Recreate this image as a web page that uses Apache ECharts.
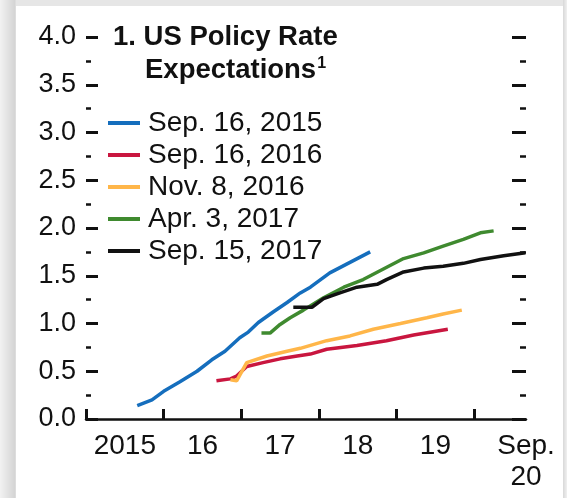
<!DOCTYPE html>
<html>
<head>
<meta charset="utf-8">
<script src="https://cdn.jsdelivr.net/npm/echarts@6/dist/echarts.min.js"></script>
<style>
  html, body { margin: 0; padding: 0; }
  body {
    width: 567px; height: 498px; position: relative; overflow: hidden;
    background: linear-gradient(to right, #f2f2f2 0px, #d4d4d4 15px, #e6e6e6 16px);
  }
  .panel {
    position: absolute; left: 16px; top: 6px; width: 547px; height: 492px;
    background: #fff;
  }
  .edge {
    position: absolute; left: 563px; top: 0; width: 4px; height: 498px;
    background: linear-gradient(to right, #d8d8d8, #f0f0f0);
  }
  #chart { position: absolute; left: 0; top: 0; width: 567px; height: 498px; }
</style>
</head>
<body>
<div class="panel"></div>
<div class="edge"></div>
<div id="chart"></div>
<script>
// decimal years on x, percent on y
const sep2015Dates = [2015.66, 2015.85, 2016.0, 2016.21, 2016.43, 2016.62, 2016.79, 2016.98, 2017.09, 2017.22, 2017.41, 2017.59, 2017.76, 2017.89, 2018.14, 2018.40, 2018.66];
const sep2015Values = [0.14, 0.20, 0.29, 0.39, 0.50, 0.62, 0.71, 0.85, 0.91, 1.01, 1.12, 1.22, 1.32, 1.38, 1.53, 1.64, 1.75];

const sep2016Dates = [2016.68, 2016.86, 2016.94, 2017.07, 2017.28, 2017.50, 2017.72, 2017.89, 2018.10, 2018.49, 2018.87, 2019.22, 2019.66];
const sep2016Values = [0.40, 0.42, 0.45, 0.55, 0.59, 0.63, 0.66, 0.68, 0.73, 0.77, 0.82, 0.88, 0.94];

const nov2016Dates = [2016.86, 2016.94, 2017.07, 2017.33, 2017.59, 2017.76, 2018.10, 2018.40, 2018.70, 2019.05, 2019.39, 2019.60, 2019.84];
const nov2016Values = [0.41, 0.40, 0.59, 0.66, 0.71, 0.74, 0.82, 0.87, 0.94, 1.00, 1.06, 1.10, 1.14];

const apr2017Dates = [2017.26, 2017.37, 2017.50, 2017.63, 2017.80, 2018.06, 2018.32, 2018.57, 2018.83, 2019.09, 2019.35, 2019.60, 2019.86, 2020.08, 2020.25];
const apr2017Values = [0.90, 0.90, 0.99, 1.06, 1.14, 1.27, 1.38, 1.46, 1.57, 1.68, 1.74, 1.81, 1.88, 1.95, 1.97];

const sep2017Dates = [2017.67, 2017.91, 2018.06, 2018.27, 2018.49, 2018.75, 2018.87, 2019.09, 2019.35, 2019.60, 2019.86, 2020.08, 2020.38, 2020.66];
const sep2017Values = [1.17, 1.17, 1.26, 1.32, 1.38, 1.41, 1.46, 1.54, 1.58, 1.60, 1.63, 1.67, 1.71, 1.74];

const seriesNames = ['Sep. 16, 2015', 'Sep. 16, 2016', 'Nov. 8, 2016', 'Apr. 3, 2017', 'Sep. 15, 2017'];
const seriesColors = ['#156ebd', '#c9163f', '#ffb649', '#3f8a2f', '#111111'];
const yearTicks = [2015, 2016, 2017, 2018, 2019, 2020];
const yearLabelPos = [2015.5, 2016.5, 2017.5, 2018.5, 2019.5, 2020.667];
const yearLabels = ['2015', '16', '17', '18', '19', 'Sep.\n20'];

const zip = (xs, ys) => xs.map((x, i) => [x, ys[i]]);
const seriesData = [
  zip(sep2015Dates, sep2015Values),
  zip(sep2016Dates, sep2016Values),
  zip(nov2016Dates, nov2016Values),
  zip(apr2017Dates, apr2017Values),
  zip(sep2017Dates, sep2017Values)
];

const font = '"Liberation Sans", Arial, Helvetica, sans-serif';
const ink = '#111';

const chart = echarts.init(document.getElementById('chart'));

const yAxisBase = {
  type: 'value',
  min: 0,
  max: 4,
  interval: 0.5,
  axisLine: { show: false },
  splitLine: { show: false },
  axisTick: { show: true, inside: true, length: 12, lineStyle: { color: ink, width: 3 } },
  minorTick: { show: true, splitNumber: 2, length: 5, lineStyle: { color: ink, width: 2.5 } }
};

chart.setOption({
  animation: false,
  backgroundColor: 'transparent',
  title: [
    {
      text: '1. US Policy Rate',
      left: 113,
      top: 23,
      padding: 0,
      textStyle: { fontFamily: font, fontSize: 27.5, fontWeight: 'bold', color: ink }
    },
    {
      text: 'Expectations{s|1}',
      left: 145,
      top: 56,
      padding: 0,
      textStyle: {
        fontFamily: font, fontSize: 27.5, fontWeight: 'bold', color: ink,
        rich: { s: { fontFamily: font, fontSize: 16, fontWeight: 'bold', color: ink, verticalAlign: 'top', padding: [0, 0, 10, 1] } }
      }
    }
  ],
  legend: {
    orient: 'vertical',
    left: 108,
    top: 109,
    padding: 0,
    itemWidth: 32,
    itemHeight: 4,
    itemGap: 4,
    icon: 'rect',
    data: seriesNames,
    textStyle: { fontFamily: font, fontSize: 28, color: ink, lineHeight: 27, padding: [0, 0, 0, 3] }
  },
  grid: { left: 86, right: 41, top: 37, bottom: 79, containLabel: false },
  xAxis: {
    type: 'value',
    min: 2015,
    max: 2020.667,
    splitLine: { show: false },
    axisLine: { show: true, lineStyle: { color: ink, width: 2.5 } },
    axisTick: { show: true, inside: true, length: 10, customValues: yearTicks, lineStyle: { color: ink, width: 3 } },
    axisLabel: {
      customValues: yearLabelPos,
      margin: 12,
      fontFamily: font,
      fontSize: 28,
      color: ink,
      lineHeight: 31,
      formatter: (v) => yearLabels[yearLabelPos.findIndex((p) => Math.abs(p - v) < 0.01)]
    }
  },
  yAxis: [
    Object.assign({}, yAxisBase, {
      position: 'left',
      axisLabel: { margin: 10, fontFamily: font, fontSize: 27, color: ink, formatter: (v) => v.toFixed(1) }
    }),
    Object.assign({}, yAxisBase, {
      position: 'right',
      axisTick: { show: true, inside: true, length: 14, lineStyle: { color: ink, width: 3 } },
      minorTick: { show: true, splitNumber: 2, length: 6, lineStyle: { color: ink, width: 2.5 } },
      axisLabel: { show: false }
    })
  ],
  series: seriesNames.map((name, i) => ({
    name,
    type: 'line',
    data: seriesData[i],
    symbol: 'none',
    color: seriesColors[i],
    lineStyle: { width: 3.5, color: seriesColors[i] },
    z: 2 + i
  }))
});
</script>
</body>
</html>
